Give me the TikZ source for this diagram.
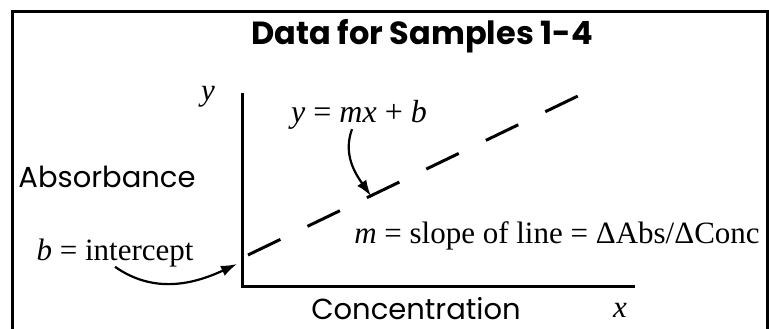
\documentclass[tikz,border=0pt]{standalone}
\usepackage{fontspec}
\setmainfont{Liberation Serif}
\newfontfamily\comicfont{Poppins}
\usetikzlibrary{arrows.meta}

\begin{document}
\begin{tikzpicture}[
  x=1pt, y=-1pt,
  txt/.style={inner sep=0pt, anchor=base, font=\fontsize{31}{36}\selectfont},
  lbl/.style={inner sep=0pt, anchor=base, font=\comicfont\fontsize{29}{34}\selectfont},
  axis/.style={line width=3pt},
  arr/.style={-{Latex[length=16pt,width=11pt]}, line width=2.2pt},
  dashline/.style={line width=3pt, dash pattern=on 36pt off 30pt}
]
\useasboundingbox (0,0) rectangle (769,329);

% frame, open at the bottom
\draw[line width=3pt] (12.5,329) -- (12.5,11.5) -- (767,11.5) -- (767,329);

\node[lbl, font=\comicfont\bfseries\fontsize{32}{38}\selectfont] (title) at (422,45) {Data for Samples 1-4};

% axes
\coordinate (origin) at (242,286);
\coordinate (ytop) at (242,93);
\coordinate (xend) at (635,286);
\draw[axis] (ytop) -- (origin) -- (xend);

\node[txt] (ylab) at (208,100) {\textit{y}};
\node[txt] (xlab) at (620,317) {\textit{x}};
\node[lbl] (absorb) at (107,187) {Absorbance};
\node[lbl] (conc) at (416,319) {Concentration};

% the line and its labels
\coordinate (lnstart) at (248,255);
\coordinate (lnend) at (580,95);
\draw[dashline] (lnstart) -- (lnend);

\node[txt, font=\fontsize{32}{36}\selectfont] (eqn) at (359,122) {\textit{y} = \textit{mx} + \textit{b}};
\node[txt] (intercept) at (115,260) {\textit{b} = intercept};
\node[txt] (slope) at (557,243) {\textit{m} = slope of line = ΔAbs/ΔConc};

\coordinate (yint) at (237,264);
\coordinate (online) at (371,196);
\draw[arr] (intercept.south) to[out=-35,in=205] (yint);
\draw[arr] ([xshift=-7pt]eqn.south) to[out=250,in=125] (online);

\end{tikzpicture}
\end{document}
